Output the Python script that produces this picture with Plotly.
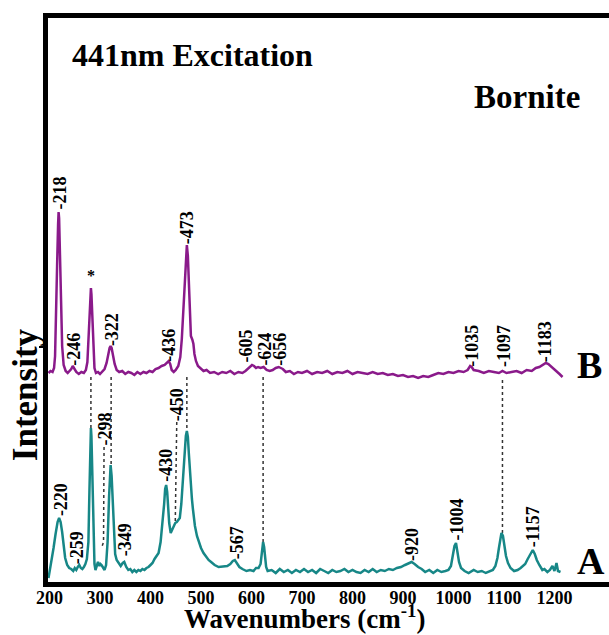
import plotly.graph_objects as go

# ---------------- data ----------------
# Spectrum B (purple, upper)
b_wn = [198, 202, 206, 209, 211, 213, 215, 217, 218, 219,
        221, 223, 225, 228, 232, 236, 240, 243, 246, 249,
        253, 258, 263, 268, 272, 275, 277, 279, 281, 282,
        283, 285, 287, 289, 292, 296, 300, 305, 309, 313,
        316, 319, 321, 323, 326, 329, 333, 338, 344, 350,
        356, 362, 368, 374, 380, 386, 392, 398, 404, 410,
        416, 422, 428, 433, 436, 439, 442, 446, 450, 455,
        459, 462, 465, 468, 470, 472, 474, 476, 478, 480,
        483, 485, 487, 490, 494, 499, 505, 511, 518, 526,
        534, 542, 550, 558, 566, 574, 582, 588, 593, 597,
        601, 605, 609, 613, 618, 624, 630, 636, 642, 648,
        654, 658, 662, 668, 676, 684, 692, 700, 710, 720,
        730, 740, 750, 760, 770, 780, 790, 800, 810, 820,
        830, 840, 850, 860, 870, 880, 890, 900, 910, 920,
        930, 940, 950, 960, 970, 980, 990, 1000, 1010, 1020,
        1028, 1033, 1036, 1040, 1050, 1060, 1070, 1080, 1090, 1097,
        1105, 1115, 1125, 1135, 1145, 1155, 1163, 1170, 1177, 1183,
        1188, 1195, 1202, 1210, 1216]
b_int = [211, 213, 212, 216, 228, 262, 318, 360, 372, 366,
         330, 275, 238, 219, 213, 211, 213, 215, 218, 215,
         212, 210, 212, 211, 214, 222, 245, 278, 294, 296,
         290, 258, 230, 216, 211, 212, 210, 213, 215, 221,
         229, 236, 238, 236, 228, 220, 214, 212, 213, 210,
         212, 211, 209, 212, 210, 212, 211, 213, 212, 215,
         216, 218, 219, 222, 223, 220, 214, 212, 214, 218,
         227, 245, 275, 312, 332, 339, 328, 295, 265, 248,
         244, 240, 230, 223, 218, 216, 213, 214, 211, 212,
         210, 212, 211, 213, 210, 212, 211, 213, 215, 217,
         219, 218, 216, 217, 216, 217, 214, 213, 214, 216,
         217, 216, 215, 212, 213, 210, 212, 211, 213, 210,
         212, 211, 213, 210, 212, 211, 213, 210, 212, 211,
         210, 212, 210, 211, 209, 210, 208, 209, 207, 208,
         206, 208, 207, 209, 211, 210, 212, 211, 213, 212,
         214, 218, 217, 214, 213, 211, 213, 212, 211, 213,
         211, 212, 213, 211, 214, 213, 216, 217, 219, 221,
         220, 217, 214, 210, 207]

# Spectrum A (teal, lower)
a_wn = [198, 201, 204, 208, 212, 216, 219, 222, 225, 228,
        231, 235, 239, 243, 247, 250, 253, 256, 259, 262,
        265, 268, 271, 274, 277, 279, 281, 282, 283, 285,
        287, 289, 291, 294, 296, 299, 301, 303, 306, 309,
        312, 315, 318, 320, 321, 323, 325, 327, 330, 333,
        337, 341, 345, 348, 352, 356, 360, 364, 368, 372,
        376, 380, 384, 388, 392, 396, 400, 404, 408, 412,
        416, 420, 424, 427, 429, 431, 433, 435, 437, 440,
        443, 446, 449, 452, 455, 458, 461, 464, 467, 470,
        472, 474, 476, 478, 480, 482, 484, 488, 492, 496,
        500, 505, 510, 515, 520, 527, 535, 545, 552, 558,
        563, 567, 571, 576, 582, 590, 597, 604, 609, 614,
        618, 620, 622, 623, 625, 627, 629, 632, 640, 648,
        656, 664, 672, 680, 688, 696, 704, 712, 720, 728,
        736, 744, 752, 760, 768, 776, 784, 792, 800, 808,
        816, 824, 832, 840, 848, 856, 864, 872, 880, 888,
        896, 904, 911, 917, 923, 930, 937, 944, 952, 960,
        968, 976, 984, 990, 995, 999, 1002, 1005, 1008, 1011,
        1015, 1022, 1030, 1040, 1048, 1056, 1064, 1072, 1078, 1083,
        1087, 1090, 1093, 1095, 1098, 1101, 1104, 1108, 1113, 1120,
        1127, 1133, 1138, 1142, 1147, 1152, 1157, 1161, 1165, 1170,
        1176, 1180, 1186, 1191, 1196, 1200, 1204, 1207, 1212]
a_int = [6, 14, 24, 36, 50, 62, 66, 62, 52, 38,
         26, 19, 16, 15, 13, 16, 14, 17, 19, 16,
         15, 17, 20, 25, 42, 92, 142, 156, 148, 98,
         45, 20, 14, 18, 22, 18, 20, 19, 16, 14,
         19, 42, 88, 114, 119, 108, 80, 52, 30, 24,
         21, 18, 21, 22, 17, 14, 15, 12, 14, 12,
         14, 13, 15, 14, 16, 17, 19, 21, 25, 28,
         31, 42, 60, 80, 95, 99, 92, 76, 61, 51,
         54, 58, 61, 62, 64, 66, 80, 105, 130, 148,
         153, 147, 130, 112, 96, 85, 75, 58, 48, 41,
         36, 31, 27, 24, 22, 19, 17, 18, 18, 20,
         23, 24, 21, 17, 15, 13, 14, 13, 16, 16,
         20, 30, 40, 42, 37, 25, 17, 13, 14, 11,
         15, 12, 14, 11, 14, 12, 15, 12, 14, 11,
         15, 13, 11, 14, 12, 13, 15, 12, 14, 12,
         11, 14, 12, 15, 12, 14, 13, 15, 14, 16,
         17, 19, 21, 22, 20, 17, 15, 12, 14, 11,
         14, 12, 13, 14, 18, 28, 38, 41, 33, 22,
         16, 13, 11, 14, 12, 13, 11, 13, 14, 18,
         26, 36, 46, 51, 48, 38, 28, 21, 16, 13,
         14, 16, 18, 20, 25, 30, 34, 30, 24, 19,
         14, 15, 12, 14, 18, 13, 21, 13, 12]

# Peak labels
b_lab = ["-218", "-246", "*", "-322", "-436", "-473", "-605", "-624", "-656",
         "-1035", "-1097", "-1183"]
b_lab_x = [219, 247, 282, 323, 435, 472, 589, 625, 655, 1036, 1100, 1181]
b_lab_y = [373, 217, 298, 237, 221, 339, 221, 217, 217, 216, 216, 221]

a_lab = ["-220", "-259", "-298", "-349", "-430", "-450", "-567", "-920",
         "-1004", "-1157"]
a_lab_x = [222, 254, 308, 349, 429, 452, 571, 917, 1006, 1157]
a_lab_y = [67, 19, 137, 27, 101, 162, 24, 22, 42, 36]

# Dotted correlation lines between the spectra
conn_x = [282, 322, 472, 623, 1097]
conn_top = [207, 207, 207, 207, 204]
conn_bot = [156, 119, 153, 42, 51]
# Leader lines for the 298 and 450 labels
lead298_x = [308, 307, 303]
lead298_y = [137, 42, 36]
lead450_x = [452, 449]
lead450_y = [162, 61]

tick_vals = [200, 300, 400, 500, 600, 700, 800, 900, 1000, 1100, 1200]

# ---------------- figure ----------------
SERIF = "Liberation Serif"
fig = go.Figure()

cx, cy = [], []
for x, t, b in zip(conn_x, conn_top, conn_bot):
    cx += [x, x, None]
    cy += [t, b, None]
cx += lead298_x + [None] + lead450_x
cy += lead298_y + [None] + lead450_y
fig.add_trace(go.Scatter(x=cx, y=cy, mode="lines",
                         line=dict(color="#333333", width=1.5, dash="dot"),
                         hoverinfo="skip", showlegend=False))

fig.add_trace(go.Scatter(x=b_wn, y=b_int, mode="lines",
                         line=dict(color="#8a1a8a", width=2.5),
                         showlegend=False))
fig.add_trace(go.Scatter(x=a_wn, y=a_int, mode="lines",
                         line=dict(color="#178787", width=2.5),
                         showlegend=False))

ann = []
for t, x, y in zip(b_lab + a_lab, b_lab_x + a_lab_x, b_lab_y + a_lab_y):
    if t == "*":
        ann.append(dict(x=x, y=y, text="*", showarrow=False, xanchor="center",
                        yanchor="bottom",
                        font=dict(family=SERIF, size=16, color="black", weight="bold")))
    else:
        ann.append(dict(x=x, y=y, text=t, showarrow=False, textangle=-90,
                        xanchor="center", yanchor="bottom", borderpad=0,
                        font=dict(family=SERIF, size=18, color="black", weight="bold")))

ann += [
    dict(x=241, y=529, text="441nm Excitation", showarrow=False, xanchor="left",
         yanchor="middle", font=dict(family=SERIF, size=32, color="black", weight="bold")),
    dict(x=1037, y=487, text="Bornite", showarrow=False, xanchor="left",
         yanchor="middle", font=dict(family=SERIF, size=33, color="black", weight="bold")),
    dict(x=1240, y=219, text="B", showarrow=False, xanchor="left",
         yanchor="middle", font=dict(family=SERIF, size=38, color="black", weight="bold")),
    dict(x=1240, y=23, text="A", showarrow=False, xanchor="left",
         yanchor="middle", font=dict(family=SERIF, size=38, color="black", weight="bold")),
    dict(x=-0.041, y=0.333, xref="paper", yref="paper", text="Intensity",
         showarrow=False, textangle=-90, xanchor="center", yanchor="middle",
         font=dict(family=SERIF, size=35, color="black", weight="bold")),
    dict(x=0.458, y=-0.062, xref="paper", yref="paper",
         text="Wavenumbers (cm<sup>-1</sup>)", showarrow=False,
         xanchor="center", yanchor="middle",
         font=dict(family=SERIF, size=27, color="black", weight="bold")),
]

fig.update_layout(
    width=609, height=635,
    margin=dict(l=48, r=0, t=18, b=53),
    paper_bgcolor="white", plot_bgcolor="white",
    annotations=ann,
    xaxis=dict(range=[197, 1308], showgrid=False, zeroline=False,
               showline=True, linewidth=5, linecolor="black", mirror=True,
               tickvals=tick_vals, ticks="", ticklabelstandoff=-5,
               automargin=False,
               tickfont=dict(family=SERIF, size=18, color="black", weight="bold")),
    yaxis=dict(range=[2, 566], showgrid=False, zeroline=False,
               showline=True, linewidth=5, linecolor="black", mirror=False,
               tickvals=[237], showticklabels=False, ticks="outside", ticklen=4,
               tickwidth=2, tickcolor="black", automargin=False),
)

# remove the browser's default page margin so the figure fills the window
fig.write_html("out.html",
               config={"displayModeBar": False},
               post_script="document.body.style.margin='0';"
                           "document.body.style.overflow='hidden';")
